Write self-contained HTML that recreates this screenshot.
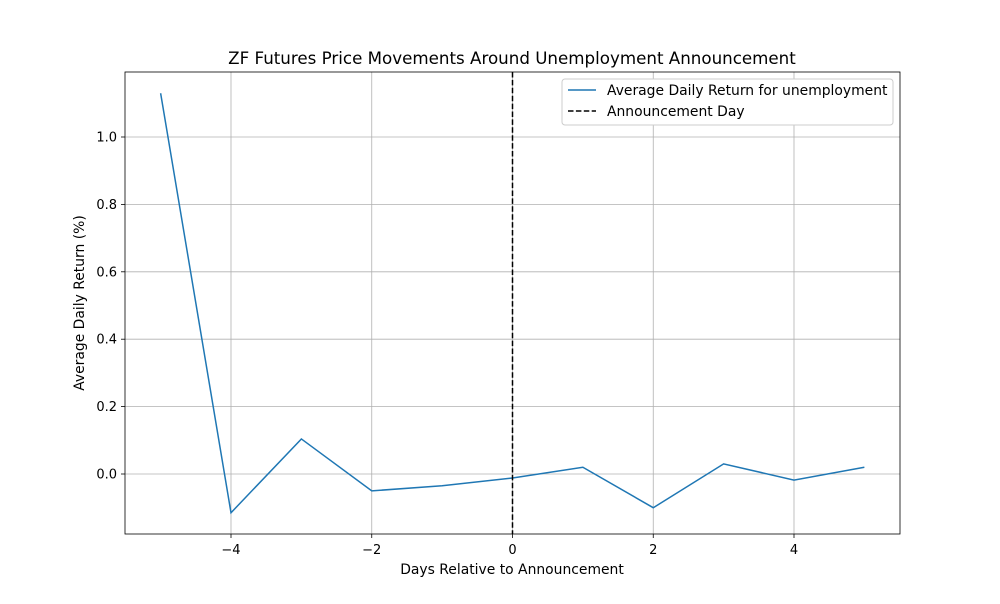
<!DOCTYPE html>
<html><head><meta charset="utf-8"><style>
body{margin:0;background:#fff;font-family:"DejaVu Sans","Liberation Sans",sans-serif}
</style></head><body>
<svg width="1000" height="600" xmlns="http://www.w3.org/2000/svg" font-family="DejaVu Sans, Liberation Sans, sans-serif">
<g id="grid"></g>
<g id="ticks"></g>
<polyline id="line" fill="none" stroke="#1f77b4" stroke-width="1.5"/>
<line id="vline" stroke="#000" stroke-width="1.5" stroke-dasharray="5.5,2.4"/>
<rect x="125" y="72" width="775" height="462" fill="none" stroke="#000" stroke-width="0.8"/>
<text x="512" y="64" text-anchor="middle" font-size="16.7">ZF Futures Price Movements Around Unemployment Announcement</text>
<text x="512" y="574" text-anchor="middle" font-size="13.9">Days Relative to Announcement</text>
<text x="84" y="303" text-anchor="middle" font-size="13.9" transform="rotate(-90 84 303)">Average Daily Return (%)</text>
<g>
<rect x="562" y="79" width="331" height="46" fill="#fff" stroke="#ccc" rx="3"/>
<line x1="568" y1="90" x2="596" y2="90" stroke="#1f77b4" stroke-width="1.5"/>
<text x="607" y="95" font-size="13.9">Average Daily Return for unemployment</text>
<line x1="568" y1="111" x2="596" y2="111" stroke="#000" stroke-width="1.5" stroke-dasharray="5.5,2.4"/>
<text x="607" y="116" font-size="13.9">Announcement Day</text>
</g>
</svg>
<script>
const days=[-5,-4,-3,-2,-1,0,1,2,3,4,5];
const returns=[1.13,-0.115,0.104,-0.05,-0.035,-0.012,0.02,-0.1,0.03,-0.018,0.02];
const xTicks=[-4,-2,0,2,4];
const yTicks=[0.0,0.2,0.4,0.6,0.8,1.0];
const xs=v=>512.5+v*70.375, ys=v=>474-v*337;
const NS="http://www.w3.org/2000/svg";
const g=document.getElementById('grid'), t=document.getElementById('ticks');
function mk(p,tag,a){const e=document.createElementNS(NS,tag);for(const k in a)e.setAttribute(k,a[k]);p.appendChild(e);return e;}
xTicks.forEach(v=>{const x=xs(v);
const gl=mk(g,'line',{x1:x,x2:x,y1:72,y2:534,stroke:'#b0b0b0','stroke-width':0.8});


mk(t,'line',{x1:x,x2:x,y1:534,y2:538,stroke:'#000','stroke-width':0.8});
const tx=mk(t,'text',{x:x,y:554,'text-anchor':'middle','font-size':13});
tx.textContent=(v<0?'\u2212'+(-v):v);

});
yTicks.forEach(v=>{const y=ys(v);
const gl=mk(g,'line',{x1:125,x2:900,y1:y,y2:y,stroke:'#b0b0b0','stroke-width':0.8});


mk(t,'line',{x1:121,x2:125,y1:y,y2:y,stroke:'#000','stroke-width':0.8});
const tx=mk(t,'text',{x:117,y:y+4.5,'text-anchor':'end','font-size':13});
tx.textContent=v.toFixed(1);

});
document.getElementById('line').setAttribute('points',days.map((d,i)=>xs(d)+','+ys(returns[i])).join(' '));
const vl=document.getElementById('vline');
vl.setAttribute('x1',xs(0));vl.setAttribute('x2',xs(0));vl.setAttribute('y1',72);vl.setAttribute('y2',534);
</script>
</body></html>
